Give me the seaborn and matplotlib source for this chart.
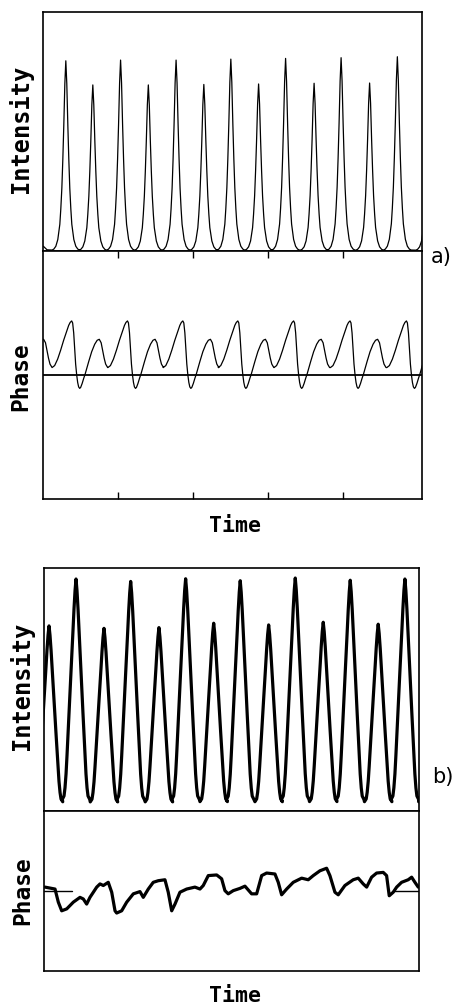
import matplotlib
matplotlib.use("Agg")

import matplotlib.pyplot as plt
import pandas as pd
import seaborn as sns


# ---- panel a: simulated intensity (time in tick units, intensity 0..1) ----
INT_A_START_T = [0.0, 0.05]
INT_A_START_Y = [0.02, 0.005]
INT_A_PEAK_T = [0.30, 0.66, 1.03, 1.40, 1.77, 2.14, 2.50,
                2.87, 3.23, 3.61, 3.97, 4.35, 4.72, 5.15]
INT_A_PEAK_H = [0.796, 0.695, 0.799, 0.695, 0.799, 0.697, 0.803,
                0.699, 0.806, 0.702, 0.809, 0.703, 0.813, 0.705]
# half pulse profile read from one peak (offset from peak, fraction of height)
INT_A_OFFSET = [0.0, 0.013, 0.027, 0.040, 0.053, 0.067, 0.080, 0.107, 0.133, 0.160, 0.183]
INT_A_SHAPE = [1.0, 0.88, 0.66, 0.48, 0.33, 0.22, 0.14, 0.06, 0.025, 0.01, 0.005]

# ---- panel a: simulated phase, one cycle around each tall phase maximum ----
PHASE_A_CYCLE_T = [-0.364, 0.378, 1.122, 1.860, 2.593, 3.337, 4.089, 4.841]
PHASE_A_OFFSET = [-0.261, -0.227, -0.187, -0.147, -0.107, -0.067, -0.040, -0.020,
                  0.0, 0.013, 0.027, 0.040, 0.053, 0.067, 0.080, 0.093, 0.107,
                  0.120, 0.140, 0.160, 0.180, 0.227, 0.267, 0.307, 0.340, 0.368,
                  0.393, 0.413, 0.433, 0.453, 0.480]
PHASE_A_VALUE = [0.15, 0.19, 0.32, 0.50, 0.70, 0.88, 1.00, 1.06,
                 1.09, 1.05, 0.85, 0.52, 0.22, 0.0, -0.15, -0.24, -0.27,
                 -0.25, -0.17, -0.07, 0.02, 0.27, 0.47, 0.62, 0.70, 0.72,
                 0.65, 0.50, 0.34, 0.22, 0.15]

# ---- panel b: measured intensity ----
INT_B_PEAK_T = [0.067, 0.427, 0.800, 1.156, 1.533, 1.889, 2.263, 2.617,
                2.996, 3.351, 3.724, 4.084, 4.457, 4.813, 5.180]
INT_B_PEAK_H = [0.762, 0.955, 0.752, 0.945, 0.755, 0.956, 0.773, 0.948,
                0.766, 0.959, 0.777, 0.950, 0.769, 0.955, 0.760]
INT_B_OFFSET = [0.0, 0.013, 0.027, 0.040, 0.053, 0.067, 0.080, 0.093,
                0.107, 0.120, 0.133, 0.147, 0.160, 0.183]
INT_B_SHAPE = [1.0, 0.95, 0.87, 0.78, 0.69, 0.60, 0.51, 0.42,
               0.33, 0.24, 0.16, 0.10, 0.065, 0.05]

# ---- panel b: measured phase ----
PHASE_B_T = [0.013, 0.080, 0.147, 0.191, 0.236, 0.303, 0.391, 0.480, 0.524, 0.569,
             0.613, 0.703, 0.747, 0.791, 0.857, 0.903, 0.947, 0.969, 1.036, 1.103,
             1.191, 1.280, 1.324, 1.391, 1.457, 1.524, 1.613, 1.657, 1.703, 1.747,
             1.813, 1.903, 2.013, 2.080, 2.124, 2.191, 2.303, 2.369, 2.413, 2.457,
             2.524, 2.613, 2.680, 2.769, 2.836, 2.903, 2.969, 3.080, 3.124, 3.169,
             3.236, 3.324, 3.436, 3.524, 3.591, 3.680, 3.769, 3.813, 3.880, 3.924,
             4.013, 4.124, 4.191, 4.257, 4.303, 4.369, 4.436, 4.524, 4.569, 4.604,
             4.657, 4.703, 4.769, 4.857, 4.903, 4.947, 4.991]
PHASE_B_V = [0.12, 0.09, 0.06, -0.35, -0.62, -0.56, -0.35, -0.20, -0.25, -0.41,
             -0.20, 0.12, 0.22, 0.17, 0.27, -0.04, -0.62, -0.69, -0.62, -0.35,
             -0.09, -0.02, -0.20, 0.06, 0.27, 0.32, 0.35, -0.04, -0.62, -0.41,
             -0.04, 0.06, 0.12, 0.06, 0.17, 0.48, 0.50, 0.38, 0.01, -0.09,
             0.01, 0.08, 0.15, -0.09, -0.09, 0.48, 0.56, 0.53, 0.27, -0.12,
             0.06, 0.27, 0.40, 0.35, 0.48, 0.63, 0.71, 0.48, -0.04, -0.12,
             0.17, 0.35, 0.40, 0.22, 0.12, 0.43, 0.56, 0.58, 0.48, -0.15,
             -0.04, 0.12, 0.27, 0.35, 0.43, 0.27, 0.12]
ZERO_B_LEFT_T = [0.0, 0.37]
ZERO_B_RIGHT_T = [4.65, 5.0]

TIME_TICKS = [1, 2, 3, 4]


def pulse_train(centers, heights, offsets, shape, lead_t=(), lead_y=()):
    full_off = [-o for o in offsets[::-1]] + offsets[1:]
    full_shape = shape[::-1] + shape[1:]
    rows = list(zip(lead_t, lead_y))
    for c, h in zip(centers, heights):
        for o, s in zip(full_off, full_shape):
            rows.append((c + o, h * s))
    return pd.DataFrame(rows, columns=["t", "y"])


def cycle_train(starts, offsets, values):
    rows = []
    for c in starts:
        for o, v in zip(offsets, values):
            rows.append((c + o, v))
    return pd.DataFrame(rows, columns=["t", "y"])


def style_box(ax, xmax):
    ax.set_xlim(0, xmax)
    ax.set_xticks([])
    ax.set_yticks([])
    ax.set_xlabel("")
    ax.set_ylabel("")
    for sp in ax.spines.values():
        sp.set_color("black")
        sp.set_linewidth(1.2)


sns.set_theme(style="white")
plt.rcParams["font.family"] = ["DejaVu Sans Mono", "DejaVu Sans"]

fig = plt.figure(figsize=(4.55, 10.04), dpi=100)
ax_ia = fig.add_axes([0.0952, 0.749, 0.833, 0.238])
ax_pa = fig.add_axes([0.0952, 0.502, 0.833, 0.247])
ax_ib = fig.add_axes([0.0967, 0.1912, 0.824, 0.242])
ax_pb = fig.add_axes([0.0967, 0.0319, 0.824, 0.1594])

# panel a
df = pulse_train(INT_A_PEAK_T, INT_A_PEAK_H, INT_A_OFFSET, INT_A_SHAPE,
                 INT_A_START_T, INT_A_START_Y)
sns.lineplot(data=df, x="t", y="y", ax=ax_ia, color="black", linewidth=0.9,
             sort=False, estimator=None)
style_box(ax_ia, 5.053)
ax_ia.set_ylim(0, 1)

df = cycle_train(PHASE_A_CYCLE_T, PHASE_A_OFFSET, PHASE_A_VALUE)
sns.lineplot(data=df, x="t", y="y", ax=ax_pa, color="black", linewidth=0.9,
             sort=False, estimator=None)
ax_pa.axhline(0, color="black", linewidth=1.3)
style_box(ax_pa, 5.053)
ax_pa.set_ylim(-2.5, 2.5)
ax_pa.set_xticks(TIME_TICKS)
ax_pa.tick_params(axis="x", direction="in", length=5, width=1, top=True,
                  bottom=True, labelbottom=False, color="black")

# panel b
df = pulse_train(INT_B_PEAK_T, INT_B_PEAK_H, INT_B_OFFSET, INT_B_SHAPE)
sns.lineplot(data=df, x="t", y="y", ax=ax_ib, color="black", linewidth=2.3,
             sort=False, estimator=None)
style_box(ax_ib, 5.0)
ax_ib.set_ylim(0, 1)

df = pd.DataFrame({"t": PHASE_B_T, "y": PHASE_B_V})
sns.lineplot(data=df, x="t", y="y", ax=ax_pb, color="black", linewidth=2.3,
             sort=False, estimator=None)
for seg in (ZERO_B_LEFT_T, ZERO_B_RIGHT_T):
    sns.lineplot(x=seg, y=[0, 0], ax=ax_pb, color="black", linewidth=1.0,
                 estimator=None)
style_box(ax_pb, 5.0)
ax_pb.set_ylim(-2.5, 2.5)

# labels
lab = dict(ha="center", va="center", color="black", fontweight="bold")
fig.text(0.046, 0.8715, "Intensity", rotation=90, fontsize=17, **lab)
fig.text(0.046, 0.6245, "Phase", rotation=90, fontsize=16.5, **lab)
fig.text(0.516, 0.476, "Time", fontsize=15.5, **lab)
fig.text(0.047, 0.3167, "Intensity", rotation=90, fontsize=17, **lab)
fig.text(0.049, 0.1126, "Phase", rotation=90, fontsize=16.5, **lab)
fig.text(0.516, 0.008, "Time", fontsize=15.5, **lab)
fig.text(0.969, 0.744, "a)", fontsize=15, family="DejaVu Sans",
         ha="center", va="center", color="black")
fig.text(0.974, 0.226, "b)", fontsize=15, family="DejaVu Sans",
         ha="center", va="center", color="black")

fig.savefig("out.png", dpi=100)
